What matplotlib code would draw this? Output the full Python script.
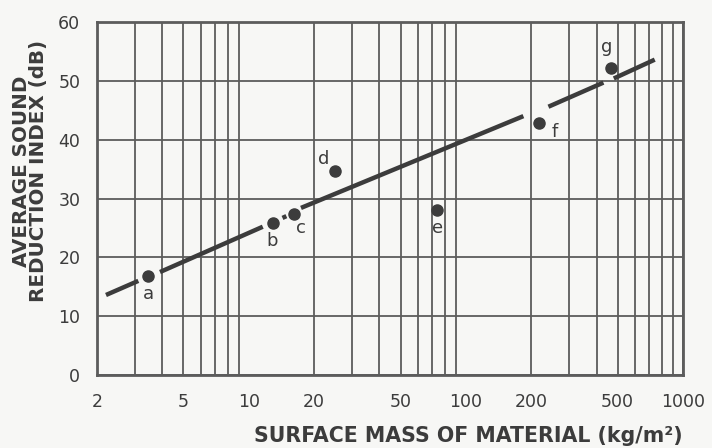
import numpy as np
import matplotlib
matplotlib.use("Agg")
import matplotlib.pyplot as plt
from matplotlib.ticker import FixedLocator, NullFormatter

# ---- data ----
point_names = ["a", "b", "c", "d", "e", "f", "g"]
point_mass = [3.45, 13.0, 16.2, 25.0, 74.0, 218.0, 466.0]
point_sri = [16.8, 25.8, 27.3, 34.6, 28.1, 42.9, 52.2]

# fitted line pieces (with breaks near the points, as drawn)
line_mass = [2.2, 3.1, np.nan, 3.9, 11.6, np.nan, 14.3, 14.9, np.nan, 17.4, 184.0, np.nan, 240.0, 430.0, np.nan, 480.0, 741.0]
line_sri = [13.6, 16.0, np.nan, 17.5, 25.2, np.nan, 26.7, 27.0, np.nan, 28.4, 44.0, np.nan, 45.6, 49.7, np.nan, 50.4, 53.6]

x_tick_vals = [2, 5, 10, 20, 50, 100, 200, 500, 1000]
x_tick_labels = ["2", "5", "10", "20", "50", "100", "200", "500", "1000"]
y_tick_vals = [0, 10, 20, 30, 40, 50, 60]

label_offsets = {"a": (0, -13), "b": (-1, -13), "c": (5, -10), "d": (-8, 9),
                 "e": (0, -13), "f": (11, -7), "g": (-3, 15)}

ink = "#3c3c3c"
gridc = "#5c5c5c"
bg = "#f7f7f5"

plt.rcParams["font.family"] = ["DejaVu Sans"]

fig = plt.figure(figsize=(7.12, 4.48), dpi=100, facecolor=bg)
ax = fig.add_axes([97/712, 1-375/448, (683-97)/712, (375-22)/448])
ax.set_facecolor(bg)

ax.set_xscale("log")
ax.set_xlim(2, 1000)
ax.set_ylim(0, 60)

minor = []
for dec in [1, 10, 100]:
    for m in range(2, 10):
        v = m * dec
        if 2 <= v <= 1000:
            minor.append(v)
ax.xaxis.set_major_locator(FixedLocator(x_tick_vals))
ax.set_xticklabels(x_tick_labels)
ax.xaxis.set_minor_locator(FixedLocator(minor))
ax.xaxis.set_minor_formatter(NullFormatter())
ax.set_yticks(y_tick_vals)

for v in minor + [1000]:
    ax.axvline(v, color=gridc, lw=1.3, zorder=1)
for v in y_tick_vals:
    ax.axhline(v, color=gridc, lw=1.3, zorder=1)

for s in ax.spines.values():
    s.set_color(gridc)
    s.set_linewidth(2.0)

ax.tick_params(axis="both", which="both", length=0, colors=ink, labelsize=12.5)
ax.tick_params(axis="x", pad=13)
ax.tick_params(axis="y", pad=12)

ax.plot(line_mass, line_sri, color=ink, lw=3.2, solid_capstyle="butt", zorder=3)
ax.plot(point_mass, point_sri, "o", color=ink, ms=8, zorder=4, linestyle="none")

for n, xm, ys in zip(point_names, point_mass, point_sri):
    dx, dy = label_offsets[n]
    ax.annotate(n, (xm, ys), xytext=(dx, dy), textcoords="offset points",
                ha="center", va="center", fontsize=13, color=ink)

fig.text(683/712, 1-436/448, "SURFACE MASS OF MATERIAL (kg/m²)", ha="right", va="center",
         fontsize=14.8, fontweight="bold", color=ink)
fig.text(30/712, 1-171/448, "AVERAGE SOUND\nREDUCTION INDEX (dB)", ha="center", va="center",
         rotation=90, fontsize=14.3, fontweight="bold", color=ink, linespacing=0.88,
         multialignment="center")

fig.savefig("out.png", dpi=100, facecolor=bg)
